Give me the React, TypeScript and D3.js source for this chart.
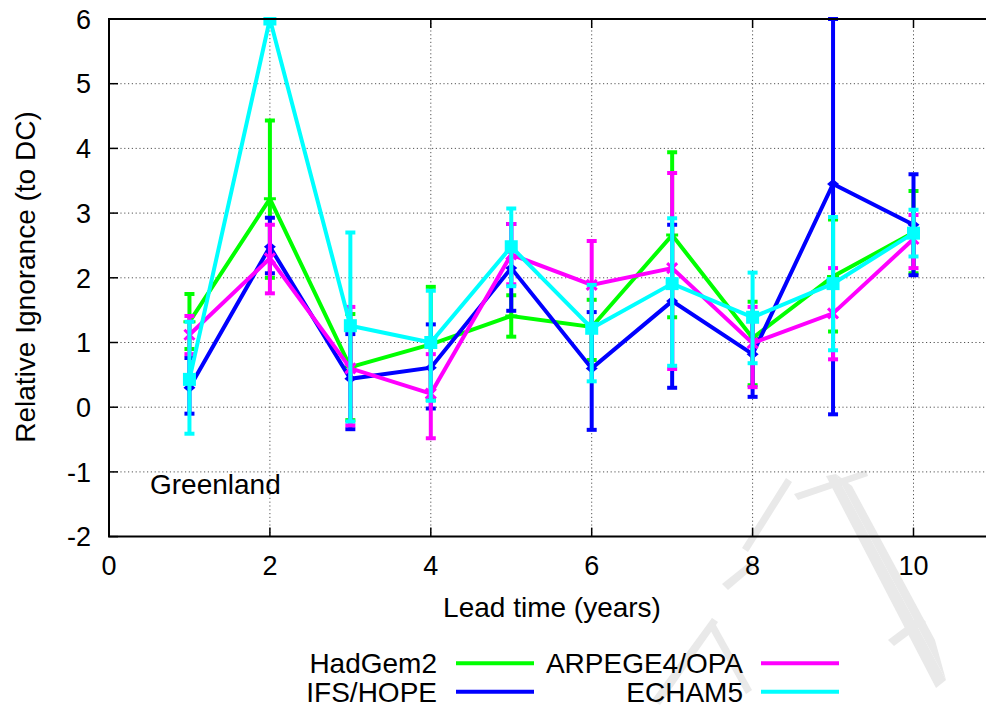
import React from "react";
import * as d3 from "d3";

const leadTime = [1, 2, 3, 4, 5, 6, 7, 8, 9, 10];

const hadgem = [1.32, 3.22, 0.62, 0.97, 1.41, 1.24, 2.66, 1.07, 2.02, 2.7];
const hadgemLo = [0.9, 2.0, -0.2, 0.11, 1.09, 0.73, 1.39, 0.34, 1.17, 2.07];
const hadgemHi = [1.75, 4.43, 1.44, 1.86, 1.73, 1.66, 3.94, 1.63, 2.9, 3.34];

const ifs = [0.3, 2.48, 0.44, 0.61, 2.15, 0.6, 1.64, 0.82, 3.45, 2.82];
const ifsLo = [-0.1, 2.07, -0.34, -0.02, 1.49, -0.35, 0.3, 0.16, -0.11, 2.04];
const ifsHi = [0.76, 2.93, 1.13, 1.28, 2.83, 1.47, 2.82, 1.45, 6.0, 3.6];

const arpege = [1.12, 2.3, 0.6, 0.21, 2.36, 1.89, 2.15, 0.99, 1.45, 2.6];
const arpegeLo = [0.82, 1.76, -0.28, -0.48, 1.9, 1.2, 0.59, 0.31, 0.74, 2.15];
const arpegeHi = [1.41, 2.82, 1.55, 0.82, 2.83, 2.57, 3.62, 1.55, 2.15, 2.97];

const echam = [0.43, 6.0, 1.26, 1.0, 2.48, 1.22, 1.91, 1.39, 1.91, 2.69];
const echamLo = [-0.41, 6.0, -0.22, 0.1, 1.87, 0.4, 0.64, 0.68, 0.88, 2.33];
const echamHi = [1.32, 7.0, 2.7, 1.8, 3.07, 1.89, 2.92, 2.08, 2.94, 3.05];

const seriesNames = ["HadGem2", "IFS/HOPE", "ARPEGE4/OPA", "ECHAM5"];
const seriesColors = ["#00ff00", "#0000ff", "#ff00ff", "#00ffff"];
const seriesMarkers = ["plus", "diamond", "cross", "square"];

const xTicks = [0, 2, 4, 6, 8, 10];
const yTicks = [-2, -1, 0, 1, 2, 3, 4, 5, 6];

const W = 986;
const H = 709;
const FONT = "'Liberation Sans', Arial, Helvetica, sans-serif";

export default function App() {
  const x = d3.scaleLinear().domain([0, 11]).range([109, 109 + 11 * 80.45]);
  const y = d3.scaleLinear().domain([-2, 6]).range([536.6, 19]);
  const left = x(0);
  const right = x(11);
  const top = y(6);
  const bottom = y(-2);

  const series = [
    { v: hadgem, lo: hadgemLo, hi: hadgemHi },
    { v: ifs, lo: ifsLo, hi: ifsHi },
    { v: arpege, lo: arpegeLo, hi: arpegeHi },
    { v: echam, lo: echamLo, hi: echamHi },
  ].map((s, i) => ({
    ...s,
    name: seriesNames[i],
    color: seriesColors[i],
    marker: seriesMarkers[i],
  }));

  const line = d3
    .line<number>()
    .x((_, i) => x(leadTime[i]))
    .y((d) => y(d));

  const marker = (kind: string, cx: number, cy: number, color: string) => {
    if (kind === "square")
      return <rect x={cx - 6.5} y={cy - 6.5} width={13} height={13} fill={color} />;
    if (kind === "diamond")
      return (
        <path
          d={`M${cx - 6},${cy} L${cx},${cy - 5} L${cx + 6},${cy} L${cx},${cy + 5} Z`}
          fill={color}
        />
      );
    if (kind === "cross")
      return (
        <path
          d={`M${cx - 5},${cy - 5} L${cx + 5},${cy + 5} M${cx - 5},${cy + 5} L${cx + 5},${cy - 5}`}
          stroke={color}
          strokeWidth={3}
        />
      );
    return (
      <path
        d={`M${cx - 6},${cy} L${cx + 6},${cy} M${cx},${cy - 6} L${cx},${cy + 6}`}
        stroke={color}
        strokeWidth={3}
      />
    );
  };

  return (
    <svg
      width={W}
      height={H}
      style={{ position: "absolute", left: 0, top: 0, background: "#fff" }}
      fontFamily={FONT}
    >
      <defs>
        <clipPath id="plotclip">
          <rect x={left} y={top - 2} width={right - left} height={bottom - top + 2} />
        </clipPath>
      </defs>
      <rect x={0} y={0} width={W} height={H} fill="#fff" />

      {/* watermark */}
      <g fill="#e9e9e9">
        <path d="M 826 476 L 836 474 L 946 680 L 936 688 Z" />
        <path d="M 836 474 L 852 486 L 935 640 L 946 680 Z" />
        <path d="M 794 494 L 866 470 L 868 476 L 798 500 Z" />
        <path d="M 742 548 L 786 478 L 792 482 L 748 552 Z" />
        <path d="M 722 584 L 752 560 L 756 566 L 728 590 Z" />
        <path d="M 652 700 L 712 618 L 718 622 L 660 705 Z" />
        <path d="M 712 618 L 752 690 L 746 694 L 708 626 Z" />
        <path d="M 888 640 L 920 616 L 926 622 L 894 646 Z" />
      </g>

      {/* grid */}
      <g stroke="#555" strokeWidth={1} strokeDasharray="1.2,2.6">
        {yTicks
          .filter((t) => t > -2 && t < 6)
          .map((t) => (
            <line key={"gy" + t} x1={left} x2={right} y1={y(t)} y2={y(t)} />
          ))}
        {xTicks
          .filter((t) => t > 0)
          .map((t) => (
            <line key={"gx" + t} x1={x(t)} x2={x(t)} y1={top} y2={bottom} />
          ))}
      </g>

      {/* ticks */}
      <g stroke="#000" strokeWidth={1.5}>
        {yTicks.map((t) => (
          <line key={"ty" + t} x1={left} x2={left + 9} y1={y(t)} y2={y(t)} />
        ))}
        {xTicks.map((t) => (
          <g key={"tx" + t}>
            <line x1={x(t)} x2={x(t)} y1={bottom} y2={bottom - 9} />
            <line x1={x(t)} x2={x(t)} y1={top} y2={top + 9} />
          </g>
        ))}
      </g>

      {/* series */}
      <g clipPath="url(#plotclip)">
        {series.map((s) => (
          <g key={s.name}>
            <path
              d={line(s.v) || ""}
              fill="none"
              stroke={s.color}
              strokeWidth={4}
              strokeLinejoin="miter"
            />
            {leadTime.map((t, i) => (
              <g key={t}>
                <line
                  x1={x(t)}
                  x2={x(t)}
                  y1={y(s.lo[i])}
                  y2={y(s.hi[i])}
                  stroke={s.color}
                  strokeWidth={4}
                />
                <line
                  x1={x(t) - 5}
                  x2={x(t) + 5}
                  y1={y(s.lo[i])}
                  y2={y(s.lo[i])}
                  stroke={s.color}
                  strokeWidth={4}
                />
                <line
                  x1={x(t) - 5}
                  x2={x(t) + 5}
                  y1={y(s.hi[i])}
                  y2={y(s.hi[i])}
                  stroke={s.color}
                  strokeWidth={4}
                />
                {marker(s.marker, x(t), y(s.v[i]), s.color)}
              </g>
            ))}
          </g>
        ))}
      </g>

      {/* border */}
      <path
        d={`M${right},${top} L${left},${top} L${left},${bottom} L${right},${bottom}`}
        fill="none"
        stroke="#000"
        strokeWidth={2}
      />

      {/* tick labels */}
      <g fontSize={27} fill="#000">
        {yTicks.map((t) => (
          <text key={"ly" + t} x={left - 18} y={y(t)} dy="0.36em" textAnchor="end">
            {t}
          </text>
        ))}
        {xTicks.map((t) => (
          <text key={"lx" + t} x={x(t)} y={575} textAnchor="middle">
            {t}
          </text>
        ))}
      </g>

      {/* axis titles */}
      <text x={552} y={617} fontSize={28} textAnchor="middle">
        Lead time (years)
      </text>
      <text
        transform={`translate(35,277) rotate(-90)`}
        fontSize={28}
        textAnchor="middle"
      >
        Relative Ignorance (to DC)
      </text>
      <text x={150} y={494} fontSize={28}>
        Greenland
      </text>

      {/* legend */}
      <g fontSize={28}>
        {series.map((s, i) => {
          const col = i < 2 ? 0 : 1;
          const row = i % 2;
          const textRight = col === 0 ? 437 : 743;
          const lx1 = col === 0 ? 456 : 761;
          const ly = row === 0 ? 663.3 : 691.7;
          const base = row === 0 ? 672.5 : 701.5;
          return (
            <g key={"lg" + s.name}>
              <text x={textRight} y={base} textAnchor="end">
                {s.name}
              </text>
              <line x1={lx1} x2={lx1 + 78} y1={ly} y2={ly} stroke={s.color} strokeWidth={4} />
            </g>
          );
        })}
      </g>
    </svg>
  );
}
